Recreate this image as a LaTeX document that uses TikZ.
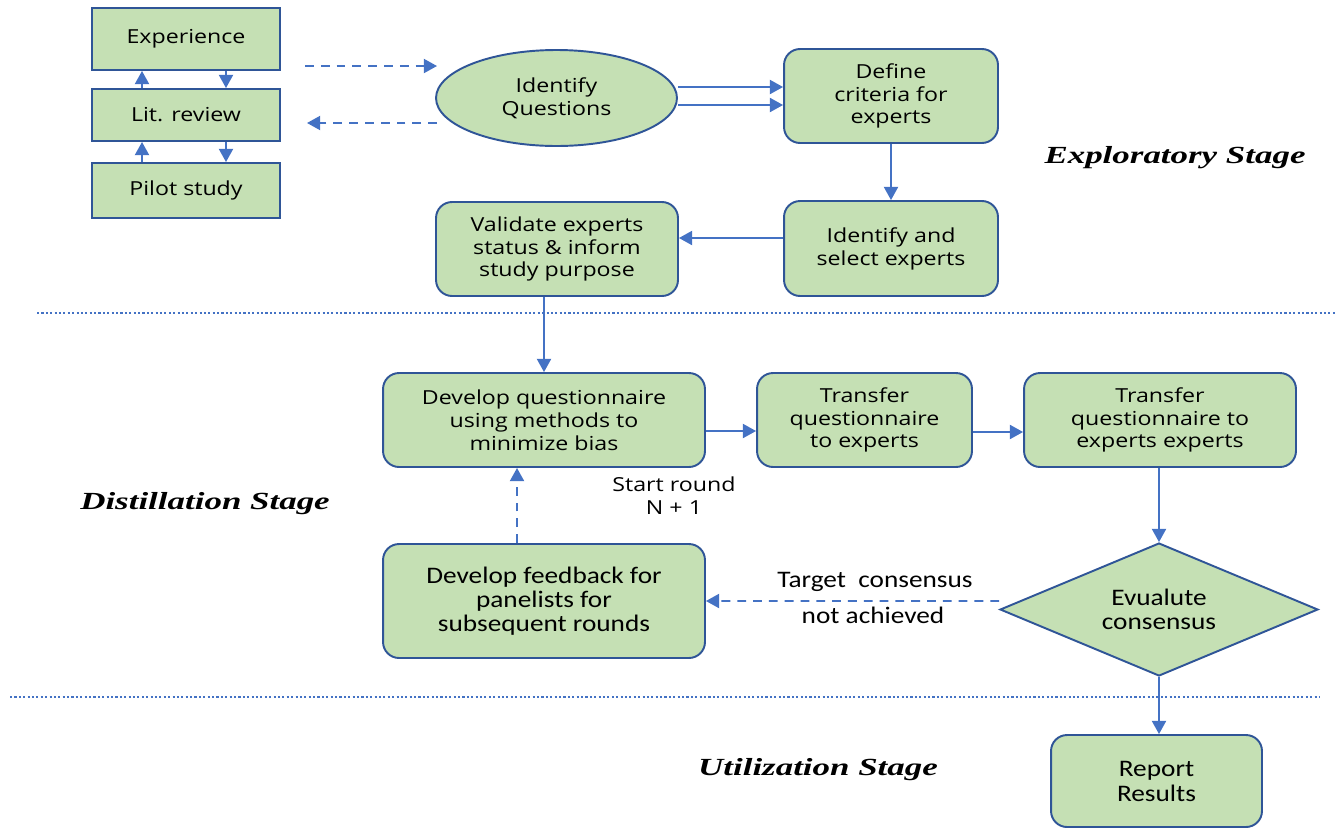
\documentclass[tikz,border=0pt]{standalone}
\usepackage{fontspec}
\setmainfont[FakeStretch=1.2]{Open Sans}
\newfontfamily\calib[FakeStretch=1.15]{Carlito}
\newfontfamily\stagefont[FakeStretch=1.42]{Liberation Serif}
\usetikzlibrary{shapes.geometric,arrows.meta,calc}
\definecolor{boxfill}{HTML}{C5E0B4}
\definecolor{boxline}{HTML}{2F5597}
\definecolor{arrcol}{HTML}{4472C4}
\tikzset{
  box/.style={draw=boxline,fill=boxfill,line width=1.1pt,align=center,font=\fontsize{11}{13}\selectfont,inner sep=2pt},
  rbox/.style={box,rounded corners=0.32cm},
  cbox/.style={rbox,font=\calib\fontsize{13.5}{13.8}\selectfont},
  arr/.style={draw=arrcol,line width=1.1pt,-{Triangle[length=7.5pt,width=8pt]}},
  darr/.style={arr,dash pattern=on 5pt off 4pt},
  sep/.style={draw=arrcol,line width=1.1pt,dash pattern=on 1.2pt off 1.3pt},
  stage/.style={font=\stagefont\bfseries\itshape\fontsize{14}{16}\selectfont},
  lbl/.style={font=\fontsize{11}{13}\selectfont,align=center},
  clbl/.style={font=\calib\fontsize{13.5}{14}\selectfont}
}
\begin{document}
\begin{tikzpicture}[x=0.02cm,y=-0.02cm]
\useasboundingbox (0,0) rectangle (1337,829);
% left column
\node[box,minimum width=3.76cm,minimum height=1.24cm] (exp) at (186,39) {Experience};
\node[box,minimum width=3.76cm,minimum height=1.04cm] (lit) at (186,115) {Lit. review};
\node[box,minimum width=3.76cm,minimum height=1.1cm] (pilot) at (186,190.5) {Pilot study};
\draw[arr] ([xshift=-0.88cm]lit.north) -- ([xshift=-0.88cm]exp.south);
\draw[arr] ([xshift=0.8cm]exp.south) -- ([xshift=0.8cm]lit.north);
\draw[arr] ([xshift=-0.88cm]pilot.north) -- ([xshift=-0.88cm]lit.south);
\draw[arr] ([xshift=0.8cm]lit.south) -- ([xshift=0.8cm]pilot.north);
% ellipse
\node[box,ellipse,minimum width=4.82cm,minimum height=1.92cm] (ident) at (556.5,98) {Identify\\Questions};
\coordinate (d1s) at (305,66);
\coordinate (d1e) at (437,66);
\coordinate (d2s) at (437,123);
\coordinate (d2e) at (307,123);
\draw[darr] (d1s) -- (d1e);
\draw[darr] (d2s) -- (d2e);
% top right
\node[rbox,minimum width=4.28cm,minimum height=1.88cm] (define) at (891,96) {Define\\criteria for\\experts};
\node[rbox,minimum width=4.28cm,minimum height=1.9cm] (select) at (891,248.5) {Identify and\\select experts};
\node[rbox,minimum width=4.84cm,minimum height=1.88cm] (valid) at (557,249) {Validate experts\\status \& inform\\study purpose};
\draw[arr] ([yshift=0.22cm]ident.east) -- ([yshift=0.22cm]ident.east -| define.west);
\draw[arr] ([yshift=-0.14cm]ident.east) -- ([yshift=-0.14cm]ident.east -| define.west);
\draw[arr] (define.south -| select.north) -- (select.north);
\draw[arr] ([yshift=0.21cm]select.west) -- ([yshift=0.21cm]select.west -| valid.east);
\node[stage] (st1) at (1175,158) {Exploratory Stage};
% separator 1
\coordinate (s1a) at (37,313);
\coordinate (s1b) at (1335,313);
\draw[sep] (s1a) -- (s1b);
% distillation
\node[rbox,minimum width=6.44cm,minimum height=1.88cm] (devq) at (544,420) {Develop questionnaire\\using methods to\\minimize bias};
\node[rbox,minimum width=4.3cm,minimum height=1.88cm] (tr1) at (864.5,420) {Transfer\\questionnaire\\to experts};
\node[rbox,minimum width=5.44cm,minimum height=1.88cm] (tr2) at (1160,420) {Transfer\\questionnaire to\\experts experts};
\node[cbox,minimum width=6.44cm,minimum height=2.28cm] (feed) at (544,601) {Develop feedback for\\panelists for\\subsequent rounds};
\node[draw=boxline,fill=boxfill,line width=1.1pt,diamond,aspect=2.4,inner sep=0pt,minimum width=6.36cm,minimum height=2.66cm,align=center,font=\calib\fontsize{13.5}{14}\selectfont] (eval) at (1159,609.5) {Evualute\\consensus};
\draw[arr] (valid.south -| devq.north) -- (devq.north);
\draw[arr] ([yshift=-0.22cm]devq.east) -- ([yshift=-0.22cm]devq.east -| tr1.west);
\draw[arr] ([yshift=-0.24cm]tr1.east) -- ([yshift=-0.24cm]tr1.east -| tr2.west);
\draw[arr] (tr2.south -| eval.north) -- (eval.north);
\draw[darr] ([yshift=0.17cm]eval.west) -- (feed.east);
\draw[darr] ([xshift=-0.54cm]feed.north) -- ([xshift=-0.54cm]devq.south);
\node[lbl] (sr) at (674,496) {Start round\\N + 1};
\node[clbl] (tc) at (875,582) {Target \ consensus};
\node[clbl] (na) at (873,615) {not achieved};
\node[stage] (st2) at (205,504) {Distillation Stage};
% separator 2
\coordinate (s2a) at (10,697);
\coordinate (s2b) at (1320,697);
\draw[sep] (s2a) -- (s2b);
% utilization
\node[cbox,minimum width=4.22cm,minimum height=1.84cm,font=\calib\fontsize{13.5}{14.2}\selectfont] (rep) at (1156.5,781) {Report\\Results};
\draw[arr] (eval.south) -- (eval.south |- rep.north);
\node[stage] (st3) at (818,770) {Utilization Stage};
\end{tikzpicture}
\end{document}
